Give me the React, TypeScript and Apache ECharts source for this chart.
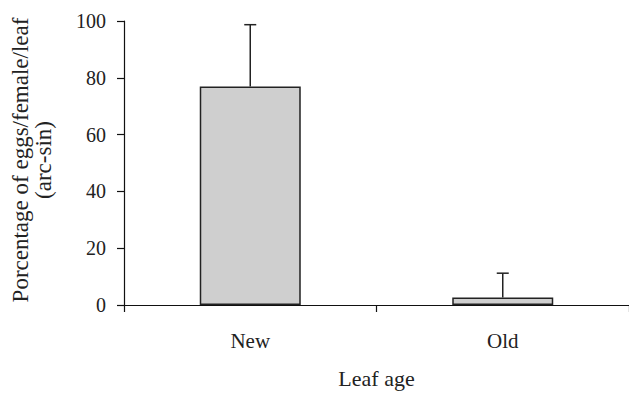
import React, { useEffect, useRef } from "react";
import * as echarts from "echarts";

const categories = ["New", "Old"];
const meanValues = [76.9, 2.6];
const upperErrorValues = [98.7, 11.2];
const yAxisTitleLines = ["Porcentage of eggs/female/leaf", "(arc-sin)"];
const xAxisTitle = "Leaf age";

const FONT = "Liberation Serif";

export default function App() {
  const ref = useRef<HTMLDivElement>(null);

  useEffect(() => {
    document.body.style.margin = "0";
    if (!ref.current) return;
    const chart = echarts.init(ref.current, null, { renderer: "svg" });

    const errData = categories.map((c, i) => [i, meanValues[i], upperErrorValues[i]]);

    chart.setOption({
      animation: false,
      backgroundColor: "#ffffff",
      textStyle: { fontFamily: FONT },
      grid: { left: 124, top: 21, bottom: 89, right: -3, containLabel: false },
      xAxis: {
        type: "category",
        data: categories,
        boundaryGap: true,
        axisLine: { show: true, lineStyle: { color: "#111", width: 1.2 } },
        axisTick: { show: true, alignWithLabel: false, length: 7, inside: false, lineStyle: { color: "#111", width: 1.2 } },
        axisLabel: { color: "#222", fontFamily: FONT, fontSize: 21, margin: 25 },
        name: xAxisTitle,
        nameLocation: "middle",
        nameGap: 62,
        nameTextStyle: { color: "#222", fontFamily: FONT, fontSize: 22, verticalAlign: "top" },
      },
      yAxis: {
        type: "value",
        min: 0,
        max: 100,
        interval: 20,
        splitLine: { show: false },
        axisLine: { show: true, lineStyle: { color: "#111", width: 1.2 } },
        axisTick: { show: true, length: 7, inside: false, lineStyle: { color: "#111", width: 1.2 } },
        axisLabel: { color: "#222", fontFamily: FONT, fontSize: 20, margin: 18 },
      },
      graphic: [
        {
          type: "text",
          x: 20,
          y: 160,
          rotation: Math.PI / 2,
          style: {
            text: yAxisTitleLines[0],
            fill: "#222",
            fontFamily: FONT,
            fontSize: 23,
            textAlign: "center",
            textVerticalAlign: "middle",
          },
        },
        {
          type: "text",
          x: 43,
          y: 160,
          rotation: Math.PI / 2,
          style: {
            text: yAxisTitleLines[1],
            fill: "#222",
            fontFamily: FONT,
            fontSize: 23,
            textAlign: "center",
            textVerticalAlign: "middle",
          },
        },
      ],
      series: [
        {
          type: "bar",
          data: meanValues,
          barWidth: 101,
          itemStyle: { color: "#cfcfcf", borderColor: "#222", borderWidth: 1.5 },
        },
        {
          type: "custom",
          data: errData,
          z: 5,
          renderItem: (params: any, api: any) => {
            const idx = api.value(0);
            const base = api.coord([idx, api.value(1)]);
            const top = api.coord([idx, api.value(2)]);
            const style = { stroke: "#222", lineWidth: 1.5 };
            return {
              type: "group",
              children: [
                { type: "line", shape: { x1: base[0], y1: base[1], x2: top[0], y2: top[1] }, style },
                { type: "line", shape: { x1: top[0] - 6, y1: top[1], x2: top[0] + 6, y2: top[1] }, style },
              ],
            };
          },
        },
      ],
    });

    return () => chart.dispose();
  }, []);

  return <div ref={ref} style={{ width: 629, height: 394 }} />;
}
